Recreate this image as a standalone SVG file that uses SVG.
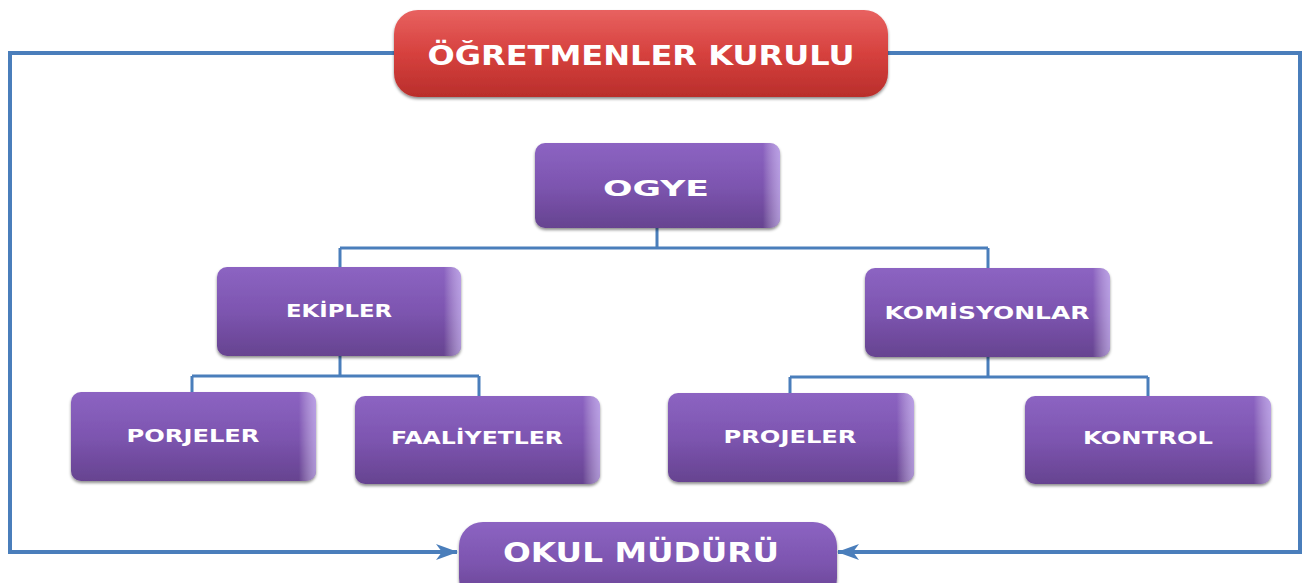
<svg xmlns="http://www.w3.org/2000/svg" width="1307" height="583" viewBox="0 0 1307 583">
<defs>
<linearGradient id="gPurple" x1="0" y1="0" x2="0" y2="1">
<stop offset="0" stop-color="#8c64c2"/>
<stop offset="0.5" stop-color="#7d55b0"/>
<stop offset="1" stop-color="#664390"/>
</linearGradient>
<linearGradient id="gRed" x1="0" y1="0" x2="0" y2="1">
<stop offset="0" stop-color="#e86260"/>
<stop offset="0.5" stop-color="#d6413e"/>
<stop offset="1" stop-color="#b92e2b"/>
</linearGradient>
<linearGradient id="gEdge" x1="0" y1="0" x2="1" y2="0">
<stop offset="0" stop-color="#ffffff" stop-opacity="0"/>
<stop offset="0.93" stop-color="#ffffff" stop-opacity="0"/>
<stop offset="1" stop-color="#d9c8ff" stop-opacity="0.6"/>
</linearGradient>
<filter id="sh" x="-5%" y="-10%" width="110%" height="125%">
<feDropShadow dx="0" dy="2" stdDeviation="1.5" flood-color="#000" flood-opacity="0.45"/>
</filter>
<marker id="arr" viewBox="0 0 22 16" refX="21" refY="8" markerWidth="22" markerHeight="16" markerUnits="userSpaceOnUse" orient="auto">
<path d="M0,0 L22,8 L0,16 L6,8 Z" fill="#4a7ebb"/>
</marker>
</defs>
<style>
.ln{fill:none;stroke:#4a7ebb;stroke-width:4;stroke-linejoin:miter}
.tr{fill:none;stroke:#4a7ebb;stroke-width:3}
.bx{fill:url(#gPurple);filter:url(#sh)}
.rd{fill:url(#gRed);filter:url(#sh)}
.ed{fill:url(#gEdge)}
.t{font-family:"DejaVu Sans","Verdana",sans-serif;font-weight:bold;fill:#ffffff;text-anchor:middle}
.s{font-size:17.5px}
.b{font-size:26px}
</style>
<g id="connectors">
<path class="ln" d="M394,53 H10 V552 H457" marker-end="url(#arr)"/>
<path class="ln" d="M888,53 H1300 V552 H838" marker-end="url(#arr)"/>
<path class="tr" d="M657,228 V248 M340,248 H988 M340,248 V267 M988,248 V268"/>
<path class="tr" d="M340,356 V376 M192,376 H479 M192,376 V392 M479,376 V396"/>
<path class="tr" d="M988,357 V377 M790,377 H1148 M790,377 V393 M1148,377 V396"/>
</g>
<g id="ogretmenler-kurulu">
<rect class="rd" x="394" y="10" width="494" height="87" rx="24"/>
<text class="t b" x="641" y="65" textLength="427" lengthAdjust="spacingAndGlyphs">ÖĞRETMENLER KURULU</text>
</g>
<g id="ogye">
<rect class="bx" x="535" y="143" width="245" height="85" rx="10"/>
<rect class="ed" x="535" y="143" width="245" height="85" rx="10"/>
<text class="t" x="656" y="196" font-size="22" textLength="106" lengthAdjust="spacingAndGlyphs">OGYE</text>
</g>
<g id="ekipler">
<rect class="bx" x="217" y="267" width="244" height="89" rx="10"/>
<rect class="ed" x="217" y="267" width="244" height="89" rx="10"/>
<text class="t s" x="339" y="317" textLength="106" lengthAdjust="spacingAndGlyphs">EKİPLER</text>
</g>
<g id="komisyonlar">
<rect class="bx" x="865" y="268" width="245" height="89" rx="10"/>
<rect class="ed" x="865" y="268" width="245" height="89" rx="10"/>
<text class="t s" x="987" y="319" textLength="205" lengthAdjust="spacingAndGlyphs">KOMİSYONLAR</text>
</g>
<g id="porjeler">
<rect class="bx" x="71" y="392" width="245" height="89" rx="10"/>
<rect class="ed" x="71" y="392" width="245" height="89" rx="10"/>
<text class="t s" x="193" y="442" textLength="133" lengthAdjust="spacingAndGlyphs">PORJELER</text>
</g>
<g id="faaliyetler">
<rect class="bx" x="355" y="396" width="245" height="88" rx="10"/>
<rect class="ed" x="355" y="396" width="245" height="88" rx="10"/>
<text class="t s" x="477" y="444" textLength="172" lengthAdjust="spacingAndGlyphs">FAALİYETLER</text>
</g>
<g id="projeler">
<rect class="bx" x="668" y="393" width="246" height="89" rx="10"/>
<rect class="ed" x="668" y="393" width="246" height="89" rx="10"/>
<text class="t s" x="790" y="443" textLength="133" lengthAdjust="spacingAndGlyphs">PROJELER</text>
</g>
<g id="kontrol">
<rect class="bx" x="1025" y="396" width="246" height="88" rx="10"/>
<rect class="ed" x="1025" y="396" width="246" height="88" rx="10"/>
<text class="t s" x="1148" y="444" textLength="130" lengthAdjust="spacingAndGlyphs">KONTROL</text>
</g>
<g id="okul-muduru">
<rect class="bx" x="459" y="522" width="378" height="80" rx="24"/>
<text class="t b" x="641" y="562" font-size="24" textLength="276" lengthAdjust="spacingAndGlyphs">OKUL MÜDÜRÜ</text>
</g>
</svg>
